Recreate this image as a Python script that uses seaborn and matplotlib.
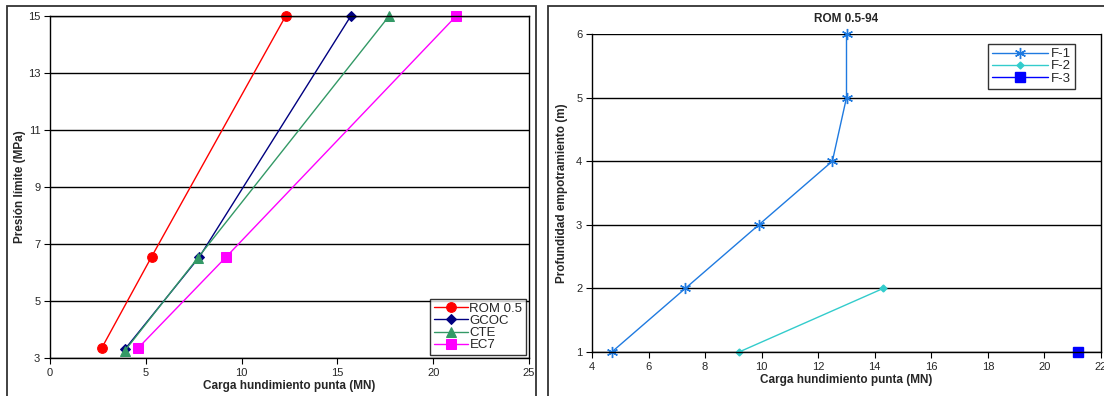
import matplotlib
matplotlib.use("Agg")
import matplotlib.pyplot as plt
import seaborn as sns
from matplotlib.patches import Rectangle

sns.set_theme(style="white")
plt.rcParams['font.family'] = ['Liberation Sans', 'DejaVu Sans']

# ---- Data: left chart ----
rom_x = [2.7, 5.3, 12.3]
rom_y = [3.35, 6.55, 15.0]
gcoc_x = [3.9, 7.8, 15.7]
gcoc_y = [3.3, 6.55, 15.0]
cte_x = [3.9, 7.7, 17.7]
cte_y = [3.25, 6.5, 15.0]
ec7_x = [4.6, 9.2, 21.2]
ec7_y = [3.35, 6.55, 15.0]
left_xticks = [0, 5, 10, 15, 20, 25]
left_yticks = [3, 5, 7, 9, 11, 13, 15]

# ---- Data: right chart ----
f1_x = [4.7, 7.3, 9.9, 12.5, 13.0, 13.0]
f1_y = [1, 2, 3, 4, 5, 6]
f2_x = [9.2, 14.3]
f2_y = [1, 2]
f3_x = [21.2]
f3_y = [1]
right_xticks = [4, 6, 8, 10, 12, 14, 16, 18, 20, 22]
right_yticks = [1, 2, 3, 4, 5, 6]

W, H = 1104, 396
fig = plt.figure(figsize=(W / 100, H / 100), dpi=100)

def px_axes(l, t, r, b):
    return fig.add_axes([l / W, 1 - b / H, (r - l) / W, (b - t) / H])

# outer frames
fig.patches.append(Rectangle((7 / W, -0.05), (536 - 7) / W, 1 - 6 / H + 0.05,
                             transform=fig.transFigure, fill=False,
                             edgecolor='#333333', lw=1.3))
fig.patches.append(Rectangle((548 / W, -0.05), (1110 - 548) / W, 1 - 6 / H + 0.05,
                             transform=fig.transFigure, fill=False,
                             edgecolor='#333333', lw=1.3))

def style_axes(ax, xticks, yticks):
    for s in ax.spines.values():
        s.set_color('black')
        s.set_linewidth(1.0)
    ax.set_xticks(xticks)
    ax.set_yticks(yticks)
    ax.set_xlim(xticks[0], xticks[-1])
    ax.set_ylim(yticks[0], yticks[-1])
    ax.yaxis.grid(True, color='black', lw=1.0)
    ax.xaxis.grid(False)
    ax.tick_params(axis='both', which='major', direction='out', length=4,
                   width=0.8, color='black', labelsize=8, pad=3,
                   left=True, bottom=True)
    ax.set_axisbelow(True)

# ---- Left chart ----
axL = px_axes(50, 16, 529, 358)
series_left = [
    (rom_x, rom_y, 'ROM 0.5', '#ff0000', 'o', 7),
    (gcoc_x, gcoc_y, 'GCOC', '#000080', 'D', 5.5),
    (cte_x, cte_y, 'CTE', '#339966', '^', 7.5),
    (ec7_x, ec7_y, 'EC7', '#ff00ff', 's', 7),
]
for xs, ys, lab, col, mk, ms in series_left:
    sns.lineplot(x=xs, y=ys, ax=axL, color=col, marker=mk, markersize=ms,
                 markeredgecolor=col, linewidth=1.0, label=lab, sort=False,
                 estimator=None)
style_axes(axL, left_xticks, left_yticks)
axL.set_xlabel('Carga hundimiento punta (MN)', fontsize=8.5, fontweight='bold', labelpad=2)
axL.set_ylabel('Presión límite (MPa)', fontsize=8.5, fontweight='bold', labelpad=1)
legL = axL.legend(loc='lower right', fontsize=9.5, frameon=True, fancybox=False,
                  edgecolor='black', borderpad=0.3, labelspacing=0.0,
                  handlelength=2.6, handletextpad=0.1, borderaxespad=0.2)
legL.get_frame().set_linewidth(1.0)
for l in axL.lines:
    l.set_clip_on(False)

# ---- Right chart ----
axR = px_axes(592, 34, 1101, 352)
series_right = [
    (f1_x, f1_y, 'F-1', '#1f7ae0', (6, 2, 0), 8, 1.0),
    (f2_x, f2_y, 'F-2', '#33cccc', 'D', 3.5, 1.0),
    (f3_x, f3_y, 'F-3', '#0000ff', 's', 7.5, 1.0),
]
for xs, ys, lab, col, mk, ms, lw in series_right:
    sns.lineplot(x=xs, y=ys, ax=axR, color=col, marker=mk, markersize=ms,
                 markeredgecolor=col, markeredgewidth=1.0, linewidth=lw,
                 label=lab, sort=False, estimator=None)
style_axes(axR, right_xticks, right_yticks)
axR.spines['top'].set_visible(False)
axR.set_title('ROM 0.5-94', fontsize=8.5, fontweight='bold', pad=9)
axR.set_xlabel('Carga hundimiento punta (MN)', fontsize=8.5, fontweight='bold', labelpad=2)
axR.set_ylabel('Profundidad empotramiento (m)', fontsize=8.5, fontweight='bold', labelpad=6)
legR = axR.legend(loc='upper right', fontsize=9.5, frameon=True, fancybox=False,
                  edgecolor='black', borderpad=0.3, labelspacing=0.0,
                  handlelength=4.3, handletextpad=0.2, borderaxespad=0.0,
                  bbox_to_anchor=(1 - 26 / 509, 1 - 10 / 318))
legR.get_frame().set_linewidth(1.0)
for l in axR.lines:
    l.set_clip_on(False)

fig.savefig('out.png', dpi=100)
